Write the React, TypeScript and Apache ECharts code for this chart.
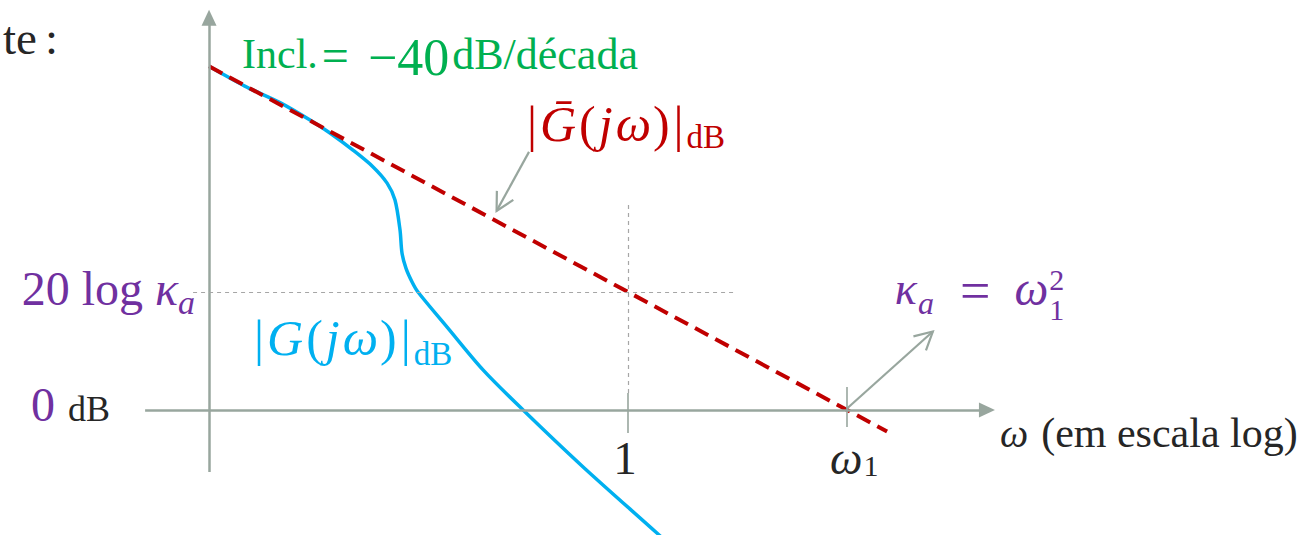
import { useEffect, useRef } from "react";
import * as echarts from "echarts";

// Horizontal coordinate: log10(ω); vertical coordinate: magnitude in dB.
const logOmegaRange = [-2.25, 1.8];
const dbRange = [-41, 135];

// Exact magnitude |G(jω)|dB
const exactLogOmega = [
  -1.913, -1.75, -1.589, -1.452, -1.361, -1.256, -1.164, -1.1, -1.064, -1.041,
  -1.032, -1.014, -0.986, -0.959, -0.826, -0.662, -0.479, -0.205, 0.132, 0.192,
];
const exactDb = [
  116.5, 109.8, 104.2, 98.3, 93.9, 88.1, 82.4, 76.9, 71.2, 61.0,
  53.2, 48.1, 43.4, 40.0, 28.1, 13.6, 0, -19.3, -41.7, -45.8,
];

// Asymptote |Ḡ(jω)|dB, slope −40 dB/década
const asymptoteLogOmega = [-1.913, 1.183];
const asymptoteDb = [116.5, -7.3];

// Marked frequencies ω = 1 and ω = ω1 (log10 ω1 = 1)
const tickLogOmega = [0, 1];
// Level 20 log κa (κa = ω1² → 40 dB)
const gainLevelDb = 40;

// Extents of the hand-drawn axes and guides (layout)
const yAxisAt = asymptoteLogOmega[0];
const horizontalAxisSpan = [-2.205, 1.639];
const verticalAxisSpan = [-21, 133.0];
const levelGuideSpan = [-1.986, 0.498];
const unityGuideSpan = [69.5, 5.8];
const tickSpans = [
  [5.8, -7.8],
  [7.8, -5.8],
];

// Annotation arrows: [tail, tip] in data coordinates
const asymptoteArrow = [
  [-0.452, 87.5],
  [-0.6, 67.5],
];
const kaArrow = [
  [1, 0.5],
  [1.392, 26.6],
];

const SERIF = '"Liberation Serif", "Times New Roman", serif';
const GREEN = "#00B050";
const PURPLE = "#7030A0";
const RED = "#C00000";
const BLUE = "#00B0F0";
const DARK = "#262626";
const AXIS_GRAY = "#98A69E";
const GUIDE_GRAY = "#A6A6A6";

// pixels per decade / per dB used to lay out the grid
const PX_PER_DECADE = 219;
const PX_PER_DB = 2.95;
const ORIGIN_PX = [628, 410];

const measureCtx = document.createElement("canvas").getContext("2d")!;
function textWidth(text: string, size: number, italic = false) {
  measureCtx.font = `${italic ? "italic " : ""}${size}px ${SERIF}`;
  return measureCtx.measureText(text).width;
}

function tok(size: number, fill: string, italic = false, padding?: number[]) {
  const t: any = { fontFamily: SERIF, fontSize: size, fill, fontStyle: italic ? "italic" : "normal" };
  if (padding) t.padding = padding;
  return t;
}

function label(x: number, y: number, text: string, rich: any, align = "left") {
  return {
    type: "text",
    x,
    y,
    silent: true,
    z: 20,
    style: { text, rich, align, verticalAlign: "middle", fontFamily: SERIF },
  };
}

function arrow(tail: number[], tip: number[]) {
  const dx = tail[0] - tip[0];
  const dy = tail[1] - tip[1];
  const len = Math.hypot(dx, dy);
  const ux = dx / len;
  const uy = dy / len;
  const arm = 20;
  const ang = (28 * Math.PI) / 180;
  const rot = (a: number) => [
    tip[0] + arm * (ux * Math.cos(a) - uy * Math.sin(a)),
    tip[1] + arm * (ux * Math.sin(a) + uy * Math.cos(a)),
  ];
  const style = { stroke: AXIS_GRAY, lineWidth: 2.2, fill: "none" };
  return [
    { type: "polyline", silent: true, z: 15, shape: { points: [tail, tip] }, style },
    { type: "polyline", silent: true, z: 15, shape: { points: [rot(ang), tip, rot(-ang)] }, style },
  ];
}

const zip = (xs: number[], ys: number[]) => xs.map((x, i) => [x, ys[i]]);

const gridLeft = ORIGIN_PX[0] + logOmegaRange[0] * PX_PER_DECADE;
const gridWidth = (logOmegaRange[1] - logOmegaRange[0]) * PX_PER_DECADE;
const gridTop = ORIGIN_PX[1] - dbRange[1] * PX_PER_DB;
const gridHeight = (dbRange[1] - dbRange[0]) * PX_PER_DB;

const baseOption: any = {
  animation: false,
  backgroundColor: "#ffffff",
  grid: { left: gridLeft, top: gridTop, width: gridWidth, height: gridHeight, containLabel: false },
  xAxis: { type: "value", min: logOmegaRange[0], max: logOmegaRange[1], show: false },
  yAxis: { type: "value", min: dbRange[0], max: dbRange[1], show: false },
  series: [
    {
      type: "line",
      data: [],
      silent: true,
      z: 1,
      markLine: {
        silent: true,
        symbol: ["none", "triangle"],
        symbolSize: [15, 16],
        label: { show: false },
        emphasis: { disabled: true },
        itemStyle: { color: AXIS_GRAY },
        lineStyle: { color: AXIS_GRAY, width: 2.5, type: "solid" },
        data: [
          [{ coord: [horizontalAxisSpan[0], 0] }, { coord: [horizontalAxisSpan[1], 0] }],
          [{ coord: [yAxisAt, verticalAxisSpan[0]] }, { coord: [yAxisAt, verticalAxisSpan[1]] }],
        ],
      },
    },
    {
      type: "line",
      data: [],
      silent: true,
      z: 1,
      markLine: {
        silent: true,
        symbol: ["none", "none"],
        label: { show: false },
        emphasis: { disabled: true },
        lineStyle: { color: GUIDE_GRAY, width: 1.2, type: [4, 4] },
        data: [
          [{ coord: [levelGuideSpan[0], gainLevelDb] }, { coord: [levelGuideSpan[1], gainLevelDb] }],
          [{ coord: [tickLogOmega[0], unityGuideSpan[0]] }, { coord: [tickLogOmega[0], unityGuideSpan[1]] }],
        ],
      },
    },
    {
      type: "line",
      data: [],
      silent: true,
      z: 1,
      markLine: {
        silent: true,
        symbol: ["none", "none"],
        label: { show: false },
        emphasis: { disabled: true },
        lineStyle: { color: AXIS_GRAY, width: 1.6, type: "solid" },
        data: tickLogOmega.map((w, i) => [
          { coord: [w, tickSpans[i][0]] },
          { coord: [w, tickSpans[i][1]] },
        ]),
      },
    },
    {
      name: "|G(jω)|dB",
      type: "line",
      data: zip(exactLogOmega, exactDb),
      smooth: 0.3,
      symbol: "none",
      silent: true,
      clip: false,
      z: 3,
      lineStyle: { color: BLUE, width: 3.5 },
    },
    {
      name: "|Ḡ(jω)|dB",
      type: "line",
      data: zip(asymptoteLogOmega, asymptoteDb),
      symbol: "none",
      silent: true,
      clip: false,
      z: 4,
      lineStyle: { color: RED, width: 4, type: [15, 8], cap: "butt" },
    },
  ],
};

function buildGraphics(P: (x: number, y: number) => number[]) {
  const [yAxisX, axisY] = P(yAxisAt, 0);
  const axisTipX = P(horizontalAxisSpan[1], 0)[0] + 8;
  const oneX = P(tickLogOmega[0], 0)[0];
  const w1X = P(tickLogOmega[1], 0)[0];
  const levelY = P(0, gainLevelDb)[1];
  const a1 = asymptoteArrow.map(([x, y]) => P(x, y));
  const a2 = kaArrow.map(([x, y]) => P(x, y));

  const g: any[] = [];

  // fragment of the surrounding sentence
  g.push(label(58, 37.5, "{t|te}{c|:}", { t: tok(47, DARK), c: tok(47, DARK, false, [0, 0, 0, 8]) }, "right"));

  // slope note
  g.push(
    label(yAxisX + 33, 53.8, "{a|Incl.}{b|=}{c|−40}{d|dB/década}", {
      a: tok(42, GREEN),
      b: tok(48, GREEN, false, [4, 0, 0, 4]),
      c: tok(52, GREEN, false, [6.8, 0, 0, 19]),
      d: tok(44, GREEN, false, [1.4, 0, 0, 3]),
    })
  );

  // asymptote label
  g.push(
    label(a1[0][0] - 2, a1[0][1] - 28, "{m||}{i|Ḡ}{p|(}{i|j}{i|ω}{q|)}{r||}{s|dB}", {
      m: tok(50, RED),
      i: tok(50, RED, true, [0, 0, 0, 3]),
      p: tok(50, RED, false, [0, 0, 0, 3]),
      q: tok(50, RED, false, [0, 0, 0, 2]),
      r: tok(50, RED, false, [0, 0, 0, 4]),
      s: tok(33, RED, false, [25.6, 0, 0, 3]),
    })
  );

  // exact curve label
  g.push(
    label(yAxisX + 45, levelY + 46, "{m||}{i|G}{p|(}{i|j}{i|ω}{q|)}{r||}{s|dB}", {
      m: tok(50, BLUE),
      i: tok(50, BLUE, true, [0, 0, 0, 3]),
      p: tok(50, BLUE, false, [0, 0, 0, 3]),
      q: tok(50, BLUE, false, [0, 0, 0, 2]),
      r: tok(50, BLUE, false, [0, 0, 0, 4]),
      s: tok(33, BLUE, false, [31.6, 0, 0, 3]),
    })
  );

  // vertical reference levels
  g.push(
    label(yAxisX - 14, levelY - 3.2, "{n|20 log }{k|κ}{s|a}", {
      n: tok(48, PURPLE),
      k: tok(48, PURPLE, true),
      s: tok(34, PURPLE, true, [27.4, 0, 0, 0]),
    }, "right")
  );
  g.push(
    label(yAxisX - 99, axisY - 5.2, "{z|0}{u|dB}", {
      z: tok(48, PURPLE),
      u: tok(36, DARK, false, [8, 0, 0, 13]),
    }, "right")
  );

  // frequency tick labels
  g.push(label(oneX - 3, axisY + 48, "{o|1}", { o: tok(47, DARK) }, "center"));
  g.push(
    label(w1X - 17, axisY + 48.5, "{w|ω}{s|1}", {
      w: tok(46, DARK, true),
      s: tok(30, DARK, false, [14.8, 0, 0, 1]),
    })
  );

  // κa = ω1²
  const kx = a2[1][0] - 38;
  const ky = a2[1][1] - 43.5;
  const eqPad = [26, 24];
  g.push(
    label(kx, ky, "{k|κ}{s|a}{m|=}{w|ω}", {
      k: tok(46, PURPLE, true),
      s: tok(32, PURPLE, true, [29.4, 0, 0, 1]),
      m: tok(54, PURPLE, false, [5.4, eqPad[1], 0, eqPad[0]]),
      w: tok(48, PURPLE, true),
    })
  );
  const scriptX =
    kx +
    textWidth("κ", 46, true) + 1 +
    textWidth("a", 32, true) +
    eqPad[0] + textWidth("=", 54) + eqPad[1] +
    textWidth("ω", 48, true) + 1;
  g.push(label(scriptX, ky - 8.5, "{t|2}", { t: tok(30, PURPLE) }));
  g.push(label(scriptX, ky + 21.5, "{t|1}", { t: tok(30, PURPLE) }));

  // horizontal axis title
  g.push(
    label(axisTipX + 5, axisY + 23.2, "{w|ω}{t|(em escala log)}", {
      w: tok(40, DARK, true),
      t: tok(42, DARK, false, [0, 0, 0, 13]),
    })
  );

  g.push(...arrow(a1[0], a1[1]));
  g.push(...arrow(a2[0], a2[1]));
  return g;
}

export default function App() {
  const ref = useRef<HTMLDivElement>(null);
  useEffect(() => {
    if (!ref.current) return;
    const chart = echarts.init(ref.current, null, { renderer: "svg" });
    chart.setOption(baseOption);
    const P = (x: number, y: number) =>
      chart.convertToPixel({ gridIndex: 0 } as any, [x, y]) as unknown as number[];
    chart.setOption({ graphic: buildGraphics(P) });
    return () => chart.dispose();
  }, []);
  return (
    <div
      ref={ref}
      style={{ position: "absolute", left: 0, top: 0, width: 1313, height: 535, background: "#fff" }}
    />
  );
}
